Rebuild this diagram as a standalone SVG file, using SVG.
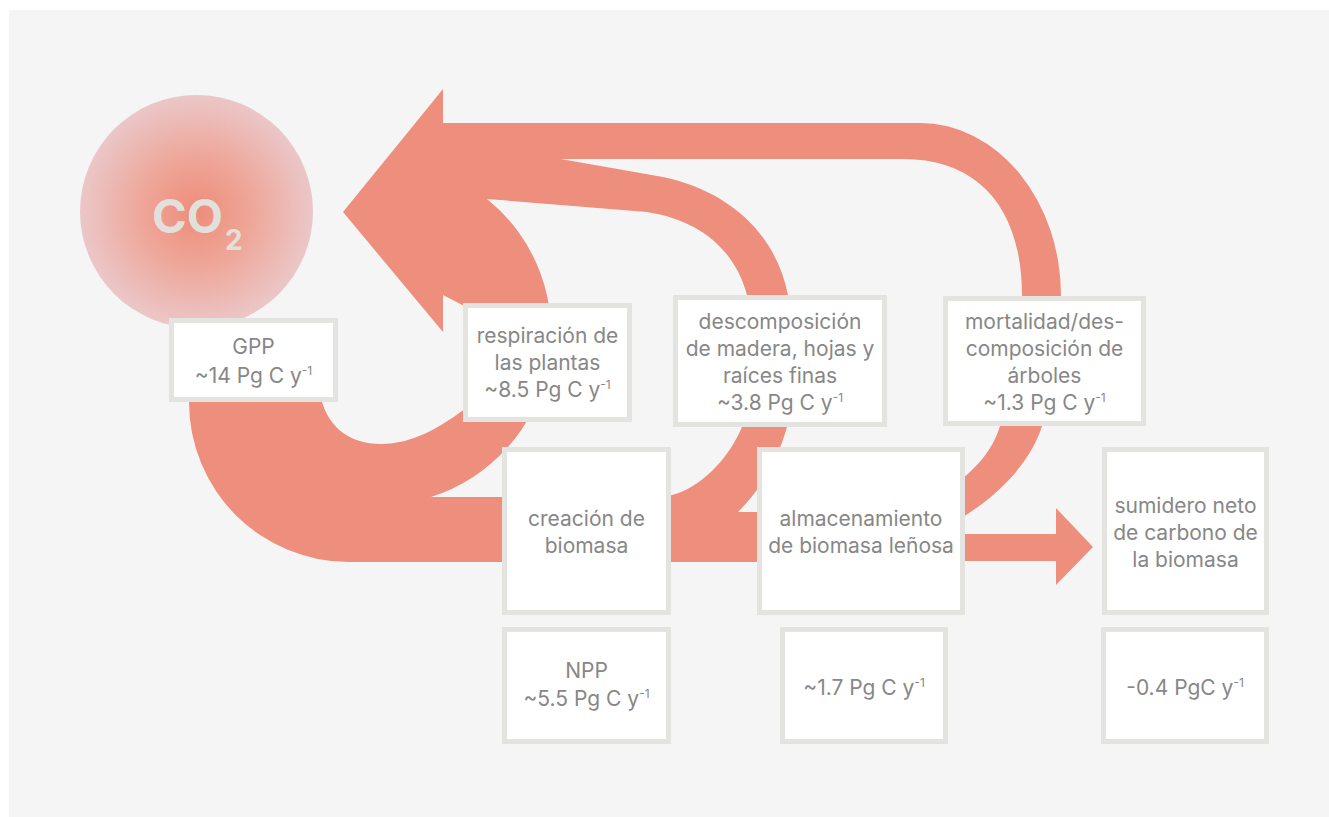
<svg xmlns="http://www.w3.org/2000/svg" width="1329" height="817" viewBox="0 0 1329 817">
<defs>
<radialGradient id="co2g" cx="50%" cy="50%" r="50%">
<stop offset="0" stop-color="#ee8c7a"/>
<stop offset="0.45" stop-color="#eea597"/>
<stop offset="1" stop-color="#ebc7c8"/>
</radialGradient>
<style>
.flow{fill:#ee8e7c;stroke:none}
.box{fill:#ffffff;stroke:#e3e3df;stroke-width:5}
.t{font-family:Inter,"Liberation Sans",sans-serif;font-size:21px;fill:#878787;text-anchor:middle}
.sup{font-size:12px}
.co2{font-family:Inter,"Liberation Sans",sans-serif;font-weight:700;fill:#e2e0dc}
</style>
</defs>
<rect x="0" y="0" width="1329" height="817" fill="#ffffff"/>
<rect x="9" y="10" width="1320" height="807" fill="#f5f5f5"/>

<g id="co2">
<circle cx="196.5" cy="211.5" r="116.5" fill="url(#co2g)"/>
<text class="co2" x="152" y="233" font-size="47">CO</text>
<text class="co2" x="225" y="250" font-size="28">2</text>
</g>

<g id="connectors">
<path class="flow" d="M 443,89 L 343,212 L 443,332 L 443,123 Z"/>
<path class="flow" d="M 443,123 L 920,123 A 141 173 0 0 1 1061,296 L 1042,426 C 1032,458 1005,492 955,522 L 950,488 C 975,470 992,452 1000,426 L 1022,296 C 1022,210 980,159 903,159 L 443,159 Z"/>
<path class="flow" d="M 443,158 L 555,158 L 663,177 C 725,190 775,230 788,295 L 787,427 C 779,455 765,485 738,512 L 765,512 L 765,562 L 660,562 L 660,497 L 672,495 C 700,488 728,460 742,427 L 747,295 C 735,250 700,220 647,212 L 487,199 L 443,199 Z"/>
<path class="flow" d="M 189,395 L 189,402 A 160 160 0 0 0 349,562 L 520,562 L 520,497 L 431,497 A 172 172 0 0 0 487,199 L 443,198 L 443,295 L 470,309 L 470,405 C 440,428 412,444 381,444 C 350,444 330,428 322,402 L 322,395 Z"/>
<rect class="flow" x="515" y="497" width="150" height="65"/>
<rect class="flow" x="760" y="512" width="205" height="50"/>
<path class="flow" d="M 955,534 L 1056,534 L 1056,508 L 1093,547 L 1056,585 L 1056,561 L 955,561 Z"/>
</g>

<g id="gpp">
<rect class="box" x="171.5" y="320.5" width="164" height="79"/>
<text class="t" x="253.5" y="354">GPP</text>
<text class="t" x="253.5" y="383">~14 Pg C y<tspan class="sup" dy="-8">-1</tspan></text>
</g>

<g id="respiracion">
<rect class="box" x="465.5" y="305.5" width="164" height="114"/>
<text class="t" x="547.5" y="343">respiración de</text>
<text class="t" x="547.5" y="370">las plantas</text>
<text class="t" x="547.5" y="397">~8.5 Pg C y<tspan class="sup" dy="-8">-1</tspan></text>
</g>

<g id="descomposicion">
<rect class="box" x="675.5" y="297.5" width="209" height="127"/>
<text class="t" x="780" y="329">descomposición</text>
<text class="t" x="780" y="356">de madera, hojas y</text>
<text class="t" x="780" y="383">raíces finas</text>
<text class="t" x="780" y="410">~3.8 Pg C y<tspan class="sup" dy="-8">-1</tspan></text>
</g>

<g id="mortalidad">
<rect class="box" x="945.5" y="298.5" width="198" height="125"/>
<text class="t" x="1044.5" y="329">mortalidad/des-</text>
<text class="t" x="1044.5" y="356">composición de</text>
<text class="t" x="1044.5" y="383">árboles</text>
<text class="t" x="1044.5" y="410">~1.3 Pg C y<tspan class="sup" dy="-8">-1</tspan></text>
</g>

<g id="creacion">
<rect class="box" x="504.5" y="449.5" width="164" height="163"/>
<text class="t" x="586.5" y="526">creación de</text>
<text class="t" x="586.5" y="553">biomasa</text>
</g>

<g id="almacenamiento">
<rect class="box" x="759.5" y="449.5" width="203" height="163"/>
<text class="t" x="861" y="526">almacenamiento</text>
<text class="t" x="861" y="553">de biomasa leñosa</text>
</g>

<g id="sumidero">
<rect class="box" x="1104.5" y="449.5" width="162" height="163"/>
<text class="t" x="1185.5" y="513">sumidero neto</text>
<text class="t" x="1185.5" y="540">de carbono de</text>
<text class="t" x="1185.5" y="567">la biomasa</text>
</g>

<g id="npp">
<rect class="box" x="504.5" y="629.5" width="164" height="112"/>
<text class="t" x="586.5" y="678">NPP</text>
<text class="t" x="586.5" y="706">~5.5 Pg C y<tspan class="sup" dy="-8">-1</tspan></text>
</g>

<g id="almac-valor">
<rect class="box" x="782.5" y="629.5" width="163" height="112"/>
<text class="t" x="864" y="695">~1.7 Pg C y<tspan class="sup" dy="-8">-1</tspan></text>
</g>

<g id="sumidero-valor">
<rect class="box" x="1103.5" y="629.5" width="163" height="112"/>
<text class="t" x="1185" y="695">-0.4 PgC y<tspan class="sup" dy="-8">-1</tspan></text>
</g>
</svg>
